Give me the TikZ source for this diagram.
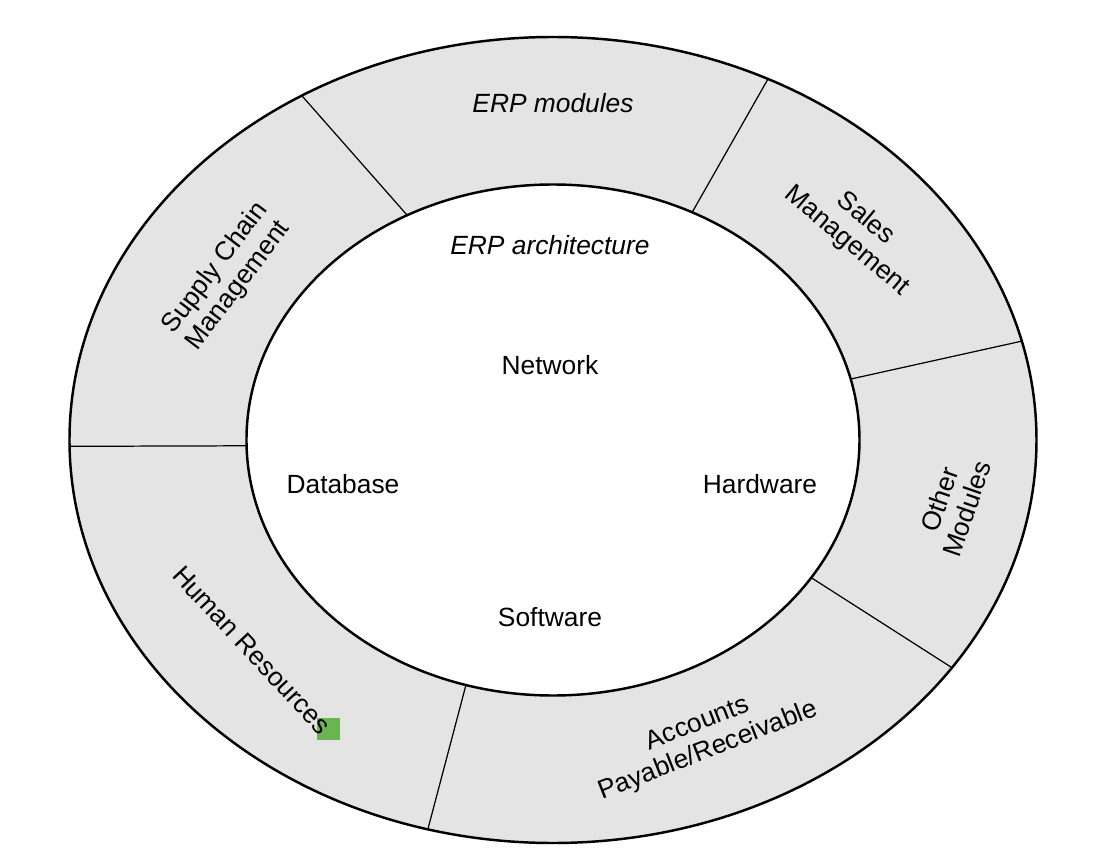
\documentclass[tikz,border=0pt]{standalone}
\usepackage{fontspec}
\setmainfont{Liberation Sans}
\usepackage{xcolor}
\usepackage{tikz}
\usetikzlibrary{positioning}
\definecolor{ringgray}{RGB}{228,228,228}
\definecolor{markgreen}{RGB}{106,180,82}

\begin{document}
\begin{tikzpicture}[rim/.style={draw=black,line width=1.4pt},
    sep/.style={draw=black,line width=0.7pt},
    lbl/.style={font=\fontsize{15}{16.5}\selectfont,align=center,inner sep=0pt}]
            \useasboundingbox (-11.06,-8.4) rectangle (11.22,8.8);
            \fill[color=ringgray] (0,0) ellipse (9.67 and 8.06);
            \fill[color=white] (0,0) ellipse (6.13 and 5.11);
            % radial separators: outer angle / inner angle
            \foreach \a/\b in {121.3/118.4,63.6/63,14.2/13.8,-34.4/-32.6,-105/-106.5,180.9/181.3}
              \path[sep] (\a:9.67 and 8.06) -- (\b:6.13 and 5.11);
            \path[rim] (0,0) ellipse (9.67 and 8.06);
            \path[rim] (0,0) ellipse (6.13 and 5.11);
            % ring
            \node[lbl] (modules) at (0,6.74) {\itshape ERP modules};
            \node[lbl,rotate=53] (scm) at (-6.52,3.26) {Supply Chain\\Management};
            \node[lbl,rotate=-40] (sales) at (6.06,4.2) {Sales\\Management};
            \node[lbl,rotate=71] (other) at (8.0,-1.28) {Other\\Modules};
            \node[lbl,rotate=21.4] (accounts) at (3.0,-5.96) {Accounts\\Payable/Receivable};
            \fill[color=markgreen] (-4.72,-6.0) rectangle (-4.26,-5.56);
            \node[lbl,rotate=-47] (hr) at (-6.02,-4.2) {Human Resources};
            % core
            \node[lbl] (arch) at (-0.06,3.9) {\itshape ERP architecture};
            \node[lbl] (network) at (-0.06,1.5) {Network};
            \node[lbl] (database) at (-4.2,-0.88) {Database};
            \node[lbl] (hardware) at (4.14,-0.88) {Hardware};
            \node[lbl] (software) at (-0.06,-3.54) {Software};
          \end{tikzpicture}
\end{document}
